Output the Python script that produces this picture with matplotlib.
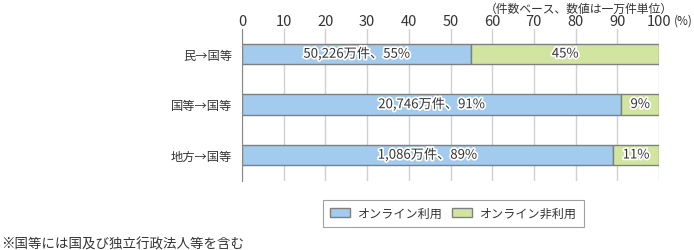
import numpy as np
from matplotlib import pyplot as plt
import matplotlib.patheffects as pe

plt.rcParams['font.family'] = ['Noto Sans CJK JP', 'DejaVu Sans']

categories = ['民→国等', '国等→国等', '地方→国等']
online = [55, 91, 89]
offline = [45, 9, 11]
counts = ['50,226', '20,746', '1,086']
ticks = [0, 10, 20, 30, 40, 50, 60, 70, 80, 90, 100]

blue = '#a3cbee'
green = '#d2e5a0'
edge = '#7f7f7f'
txt = '#333333'

fig = plt.figure(figsize=(6.94, 2.51), dpi=100)
ax = fig.add_axes([242 / 694, 1 - 182 / 251, 417 / 694, 152 / 251])

y = np.arange(len(categories))
ax.barh(y, online, height=0.4, color=blue, edgecolor=edge, linewidth=1, zorder=3,
        label='オンライン利用')
ax.barh(y, offline, left=online, height=0.4, color=green, edgecolor=edge, linewidth=1,
        zorder=3, label='オンライン非利用')

stroke = [pe.withStroke(linewidth=2.5, foreground='white')]
for i in range(len(categories)):
    ax.text(online[i] / 2, y[i], f'{counts[i]}万件、{online[i]}%', ha='center', va='center',
            fontsize=9.5, color=txt, path_effects=stroke, zorder=4)
    ax.text(online[i] + offline[i] / 2, y[i], f'{offline[i]}%', ha='center', va='center',
            fontsize=9.5, color=txt, path_effects=stroke, zorder=4)

ax.set_xlim(0, 100)
ax.set_ylim(2.515, -0.495)
ax.set_xticks(ticks)
ax.xaxis.tick_top()
ax.tick_params(axis='x', length=0, labelsize=10.5, labelcolor=txt, pad=0.5)
ax.set_yticks(y)
ax.set_yticklabels(categories)
ax.tick_params(axis='y', length=0, labelsize=8.8, labelcolor=txt, pad=7)
ax.grid(axis='x', color='#d0d0d0', linewidth=1, zorder=0)
for s in ['top', 'right', 'bottom']:
    ax.spines[s].set_visible(False)
ax.spines['left'].set_color('#888888')
ax.spines['left'].set_zorder(5)

fig.text(683 / 694, 1 - 21 / 251, '(%)', ha='center', va='center', fontsize=8.5, color=txt)
fig.text(673 / 694, 1 - 9 / 251, '（件数ベース、数値は一万件単位）', ha='right', va='center',
         fontsize=8.5, color=txt)

leg = fig.legend(loc='center', bbox_to_anchor=(453.5 / 694, 1 - 214.5 / 251), ncol=2,
                 fontsize=8.7, frameon=True, fancybox=False, edgecolor='#888888',
                 handlelength=1.65, handleheight=0.8, columnspacing=0.8, handletextpad=0.66,
                 labelcolor=txt, borderpad=0.6)
leg.get_frame().set_linewidth(0.8)

fig.text(1 / 694, 1 - 244 / 251, '※国等には国及び独立行政法人等を含む', ha='left', va='center',
         fontsize=9.7, color=txt)

fig.savefig('out.png', dpi=100)
